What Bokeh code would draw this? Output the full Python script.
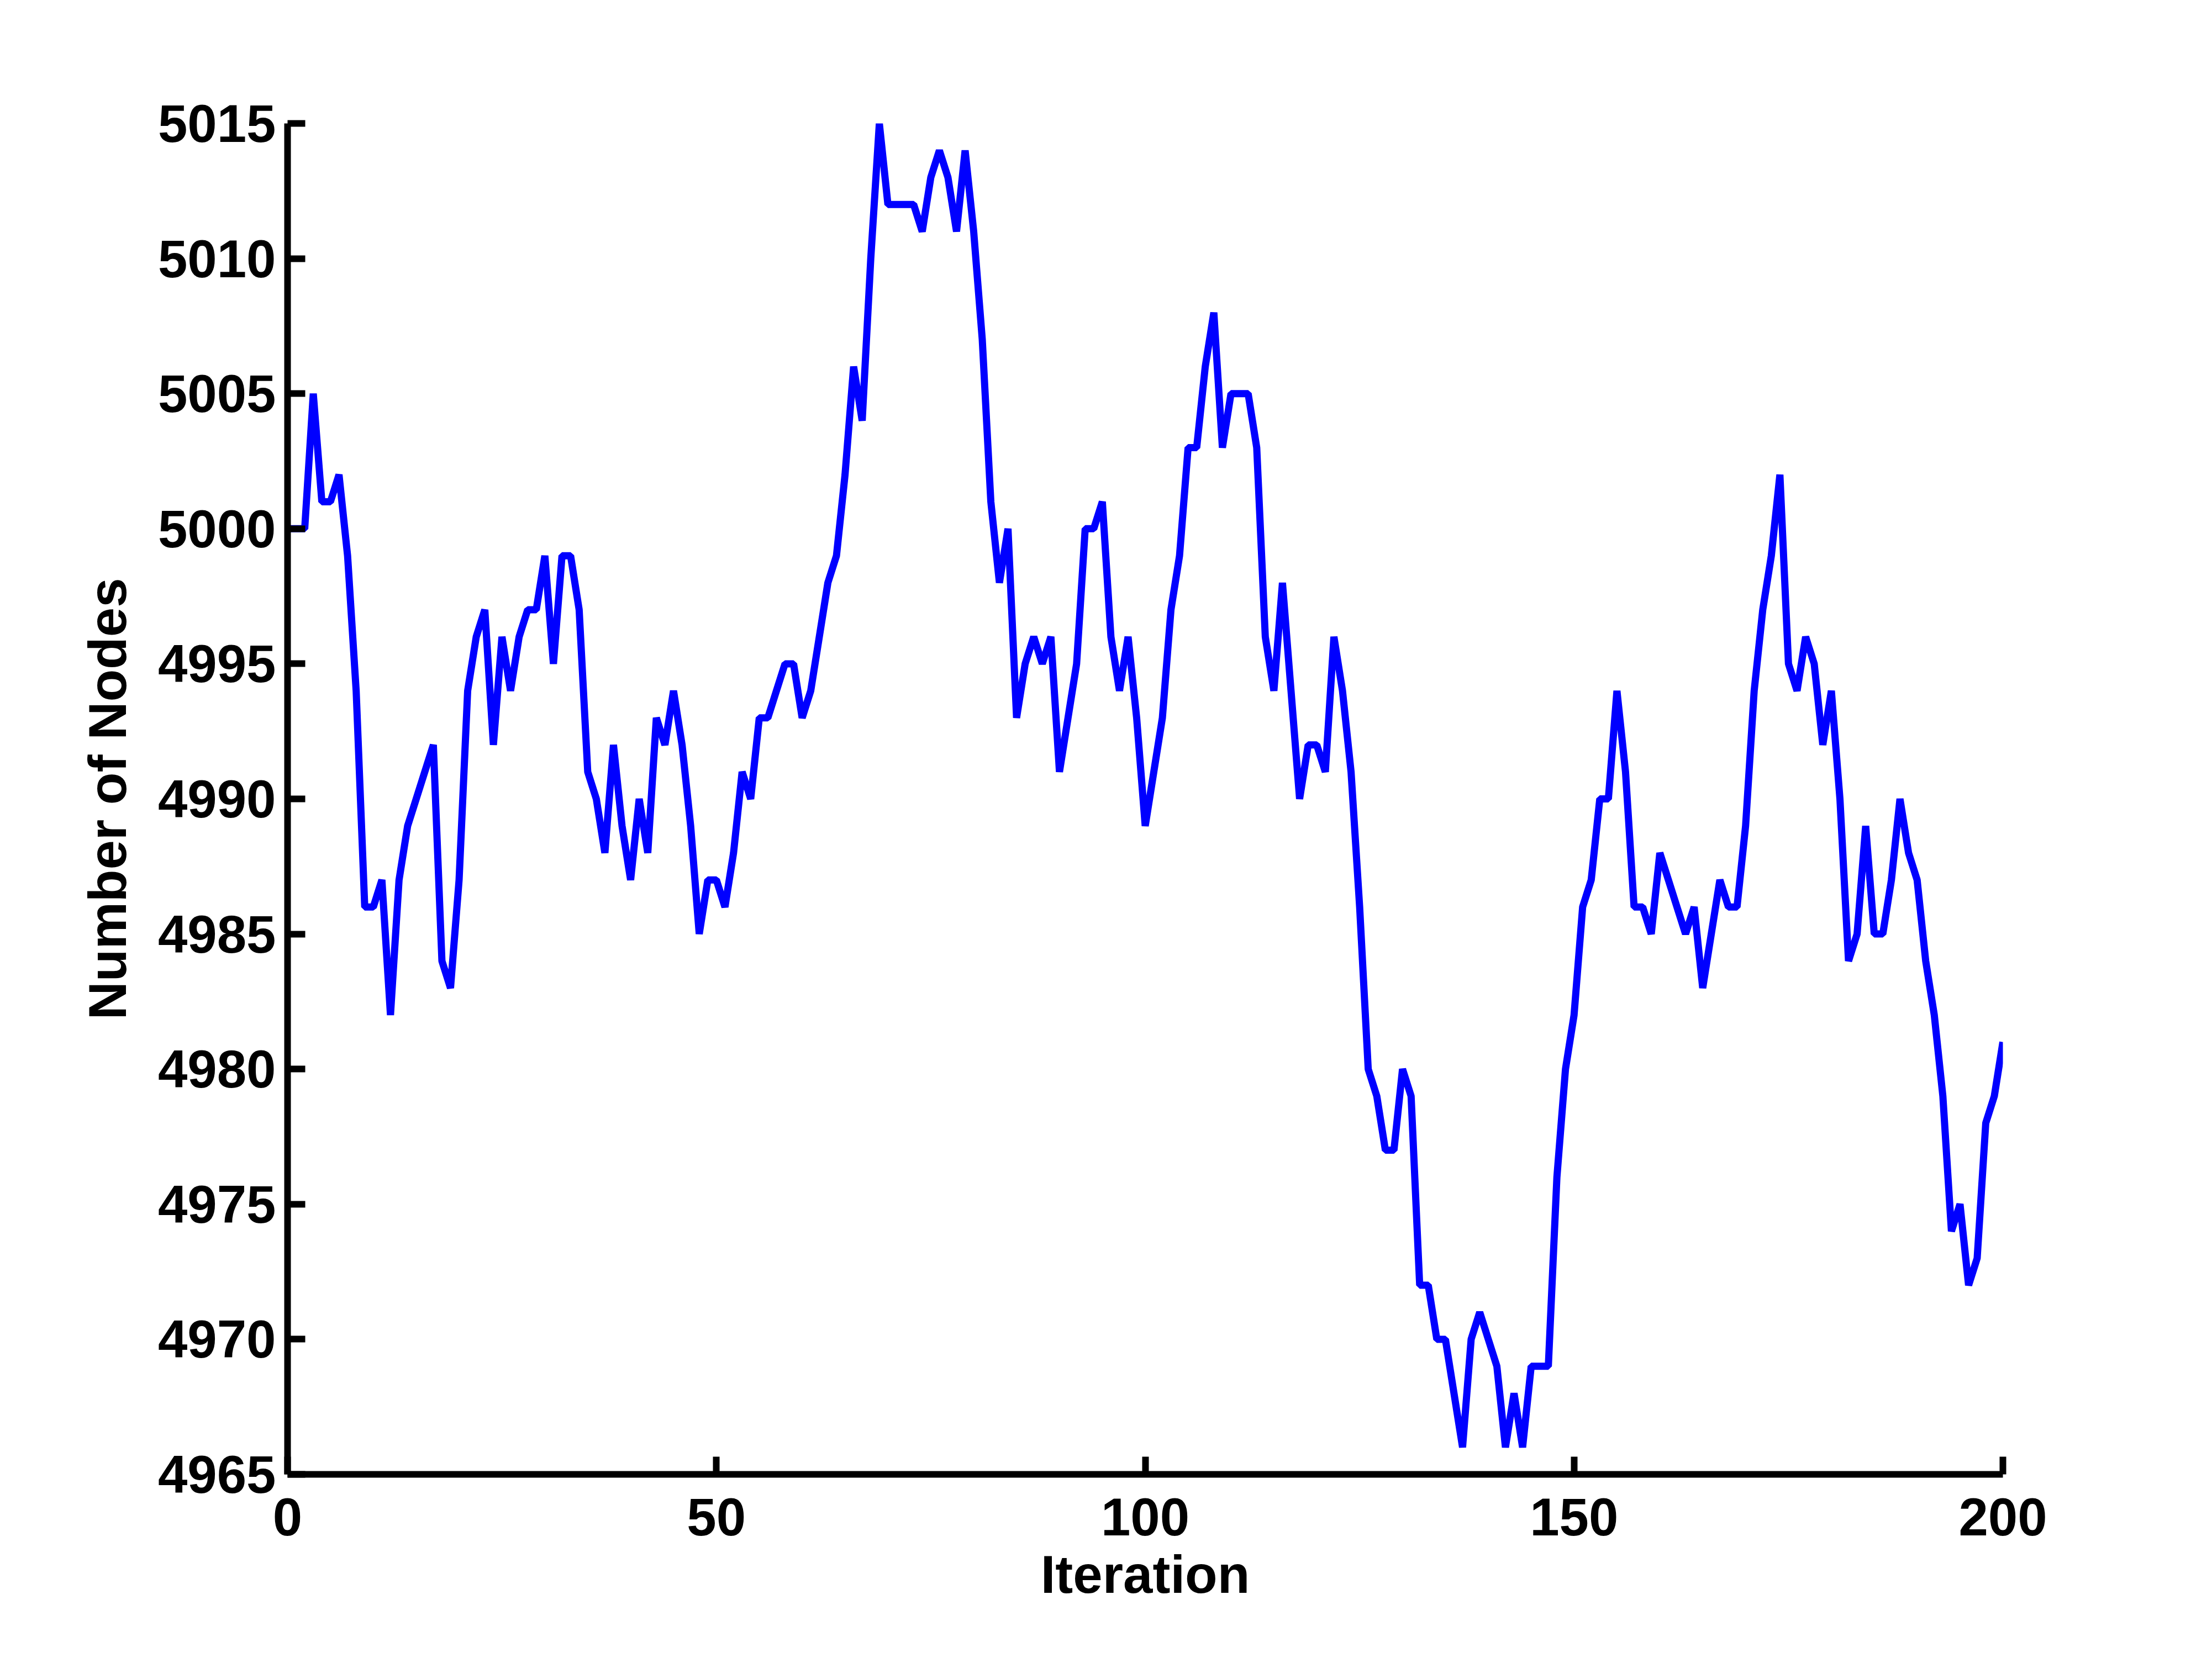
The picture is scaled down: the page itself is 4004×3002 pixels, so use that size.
from bokeh.plotting import figure
from bokeh.models import Range1d, FixedTicker
from bokeh.embed import file_html
from bokeh.resources import INLINE

iterations = list(range(0, 201))
nodes = [
    5000, 5000, 5000, 5005, 5001, 5001, 5002, 4999, 4994, 4986,
    4986, 4987, 4982, 4987, 4989, 4990, 4991, 4992, 4984, 4983,
    4987, 4994, 4996, 4997, 4992, 4996, 4994, 4996, 4997, 4997,
    4999, 4995, 4999, 4999, 4997, 4991, 4990, 4988, 4992, 4989,
    4987, 4990, 4988, 4993, 4992, 4994, 4992, 4989, 4985, 4987,
    4987, 4986, 4988, 4991, 4990, 4993, 4993, 4994, 4995, 4995,
    4993, 4994, 4996, 4998, 4999, 5002, 5006, 5004, 5010, 5015,
    5012, 5012, 5012, 5012, 5011, 5013, 5014, 5013, 5011, 5014,
    5011, 5007, 5001, 4998, 5000, 4993, 4995, 4996, 4995, 4996,
    4991, 4993, 4995, 5000, 5000, 5001, 4996, 4994, 4996, 4993,
    4989, 4991, 4993, 4997, 4999, 5003, 5003, 5006, 5008, 5003,
    5005, 5005, 5005, 5003, 4996, 4994, 4998, 4994, 4990, 4992,
    4992, 4991, 4996, 4994, 4991, 4986, 4980, 4979, 4977, 4977,
    4980, 4979, 4972, 4972, 4970, 4970, 4968, 4966, 4970, 4971,
    4970, 4969, 4966, 4968, 4966, 4969, 4969, 4969, 4976, 4980,
    4982, 4986, 4987, 4990, 4990, 4994, 4991, 4986, 4986, 4985,
    4988, 4987, 4986, 4985, 4986, 4983, 4985, 4987, 4986, 4986,
    4989, 4994, 4997, 4999, 5002, 4995, 4994, 4996, 4995, 4992,
    4994, 4990, 4984, 4985, 4989, 4985, 4985, 4987, 4990, 4988,
    4987, 4984, 4982, 4979, 4974, 4975, 4972, 4973, 4978, 4979,
    4981,
]
x_ticks = [0, 50, 100, 150, 200]
y_ticks = [4965, 4970, 4975, 4980, 4985, 4990, 4995, 5000, 5005, 5010, 5015]
x_label = "Iteration"
y_label = "Number of Nodes"

p = figure(
    width=3988, height=2986,
    output_backend="svg", toolbar_location=None,
    x_range=Range1d(0, 200), y_range=Range1d(4965, 5015),
    min_border_left=520, min_border_right=363,
    min_border_top=223, min_border_bottom=317,
)
p.outline_line_color = None
p.xgrid.visible = False
p.ygrid.visible = False
p.background_fill_color = "white"
p.border_fill_color = "white"

p.line(iterations, nodes, line_color="#0000FF", line_width=13, line_join="bevel")

p.xaxis.ticker = FixedTicker(ticks=x_ticks)
p.yaxis.ticker = FixedTicker(ticks=y_ticks)
p.xaxis.axis_label = x_label
p.yaxis.axis_label = y_label

for ax in (p.xaxis[0], p.yaxis[0]):
    ax.axis_line_color = "black"
    ax.axis_line_width = 12
    ax.major_tick_line_color = "black"
    ax.major_tick_line_width = 12
    ax.major_tick_in = 32
    ax.major_tick_out = 0
    ax.minor_tick_line_color = None
    ax.major_label_text_font = "Liberation Sans"
    ax.major_label_text_font_style = "bold"
    ax.major_label_text_font_size = "96px"
    ax.major_label_text_color = "black"
    ax.axis_label_text_font = "Liberation Sans"
    ax.axis_label_text_font_style = "bold"
    ax.axis_label_text_font_size = "96px"
    ax.axis_label_text_color = "black"

p.xaxis.major_label_standoff = 43
p.yaxis.major_label_standoff = 21
p.xaxis.axis_label_standoff = 14
p.yaxis.axis_label_standoff = 35

open("out.html", "w").write(file_html(p, INLINE))
